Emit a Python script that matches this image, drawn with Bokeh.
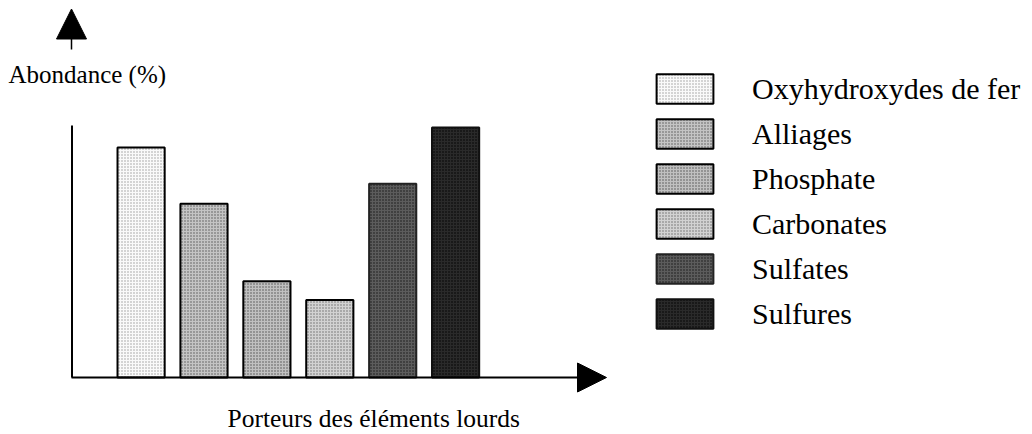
from bokeh.plotting import figure
from bokeh.models import Range1d, Label, Arrow, NormalHead, Legend, LegendItem, ColumnDataSource
from bokeh.embed import file_html
from bokeh.resources import INLINE

# ---- data ----
categories = ["Oxyhydroxydes de fer", "Alliages", "Phosphate", "Carbonates", "Sulfates", "Sulfures"]
abundance = [92, 69.5, 38.5, 31, 77.5, 100]
fill_colors = ["#fafafa", "#c4c4c4", "#c0c0c0", "#d2d2d2", "#5c5c5c", "#2a2a2a"]
hatch_colors = ["#9a9a9a", "#555555", "#505050", "#6a6a6a", "#151515", "#000000"]
line_colors = ["#000000", "#000000", "#000000", "#000000", "#222222", "#111111"]

y_title = "Abondance (%)"
x_title = "Porteurs des éléments lourds"

# ---- layout (page pixel geometry) ----
W, H = 1032, 434
BASE = 377          # baseline pixel row
PX_PER_Y = 2.5      # pixels per abundance unit
X0, PX_PER_X = 140.6, 62.9   # first bar centre and bar pitch in pixels

XS = -X0 / PX_PER_X
XE = XS + W / PX_PER_X
YS = -(H - BASE) / PX_PER_Y
YE = BASE / PX_PER_Y

def dx(cx):
    return XS + cx / PX_PER_X

def dy(cy):
    return (BASE - cy) / PX_PER_Y

p = figure(width=W, height=H, x_range=Range1d(XS, XE), y_range=Range1d(YS, YE),
           output_backend="svg", toolbar_location=None, min_border=0)
p.outline_line_color = None
p.xgrid.visible = False
p.ygrid.visible = False
p.xaxis.visible = False
p.yaxis.visible = False

src = ColumnDataSource(dict(x=list(range(len(categories))), top=abundance,
                            fill=fill_colors, hatch=hatch_colors, line=line_colors,
                            cat=categories))
r = p.vbar(x="x", top="top", bottom=0, width=0.75, source=src,
           fill_color="fill", line_color="line", line_width=2,
           hatch_pattern="dot", hatch_color="hatch", hatch_scale=3, hatch_weight=1)

# axis lines
p.line(x=[dx(71.5), dx(71.5)], y=[0, dy(125)], line_color="black", line_width=2)
p.add_layout(Arrow(end=NormalHead(size=29, fill_color="black", line_color="black", line_width=1),
                   x_start=dx(71), y_start=0, x_end=dx(606), y_end=0,
                   line_width=2, line_color="black"))
p.add_layout(Arrow(end=NormalHead(size=30, fill_color="black", line_color="black", line_width=1),
                   x_start=dx(71), y_start=dy(49), x_end=dx(71), y_end=dy(8.5),
                   line_width=1.5, line_color="black"))

items = [LegendItem(label=c, renderers=[r], index=i) for i, c in enumerate(categories)]
legend = Legend(items=items, location=(649, 102), glyph_width=71, glyph_height=37,
                label_standoff=32, label_text_font="Liberation Serif",
                label_text_font_size="30px", label_text_color="black",
                label_height=34, spacing=8,
                padding=0, margin=0, border_line_color=None, background_fill_alpha=0)
p.add_layout(legend)

p.add_layout(Label(x=dx(8), y=dy(74), text=y_title, text_font="Liberation Serif",
                   text_font_size="25px", text_baseline="alphabetic", text_color="black"))
p.add_layout(Label(x=dx(227), y=dy(418), text=x_title, text_font="Liberation Serif",
                   text_font_size="25.5px", text_baseline="alphabetic", text_color="black"))

open("out.html", "w").write(file_html(p, INLINE))
